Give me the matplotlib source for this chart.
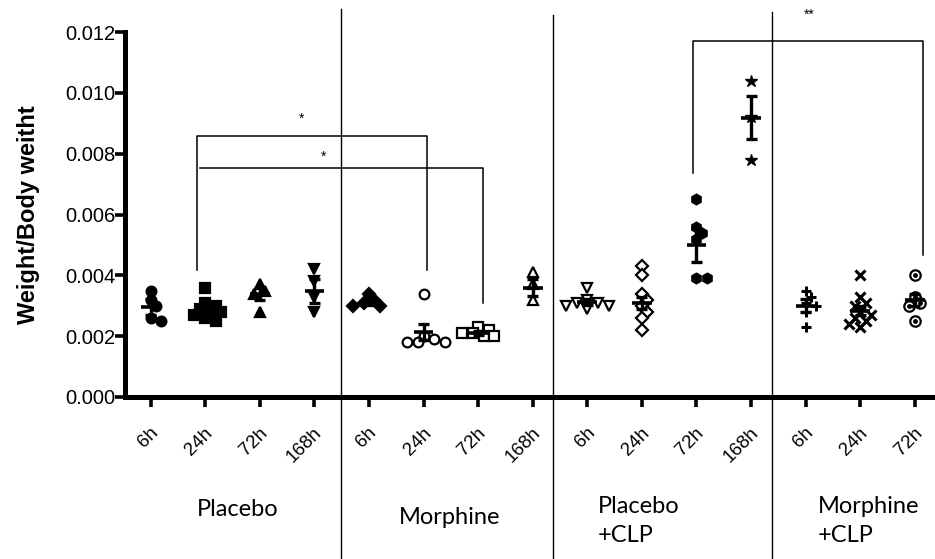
import numpy as np
import matplotlib
matplotlib.use("Agg")
import matplotlib.pyplot as plt
import matplotlib.transforms as mtrans

# ---------------- data ----------------
tick_labels = ["6h", "24h", "72h", "168h", "6h", "24h", "72h", "168h",
               "6h", "24h", "72h", "168h", "6h", "24h", "72h"]
group_names = ["Placebo", "Morphine", "Placebo\n+CLP", "Morphine\n+CLP"]

pla_6h = [0.0035, 0.0032, 0.0030, 0.0026, 0.0025]
pla_24h = [0.0036, 0.0031, 0.0030, 0.0029, 0.0028, 0.0028, 0.0027, 0.0026, 0.0025]
pla_72h = [0.0037, 0.0035, 0.0034, 0.0028]
pla_168h = [0.0042, 0.0038, 0.0033, 0.0028]
mor_6h = [0.0034, 0.0032, 0.0031, 0.0030, 0.0030]
mor_24h = [0.0034, 0.0020, 0.0019, 0.0018, 0.0018, 0.0018]
mor_72h = [0.0023, 0.0022, 0.0021, 0.0021, 0.0020, 0.0020]
mor_168h = [0.0041, 0.0037, 0.0032]
pclp_6h = [0.0036, 0.0032, 0.0031, 0.0030, 0.0030, 0.0029, 0.0031]
pclp_24h = [0.0043, 0.0040, 0.0034, 0.0032, 0.0030, 0.0028, 0.0026, 0.0022]
pclp_72h = [0.0065, 0.0056, 0.0054, 0.0052, 0.0039, 0.0039]
pclp_168h = [0.0104, 0.0092, 0.0078]
mclp_6h = [0.0035, 0.0033, 0.0031, 0.0030, 0.0028, 0.0023]
mclp_24h = [0.0040, 0.0033, 0.0031, 0.0030, 0.0028, 0.0027, 0.0026, 0.0025, 0.0024, 0.0023]
mclp_72h = [0.0040, 0.0033, 0.0031, 0.0030, 0.0025]

series = [pla_6h, pla_24h, pla_72h, pla_168h, mor_6h, mor_24h, mor_72h, mor_168h,
          pclp_6h, pclp_24h, pclp_72h, pclp_168h, mclp_6h, mclp_24h, mclp_72h]

means = [0.00296, 0.00290, 0.00339, 0.00349, 0.00310, 0.00214, 0.00210, 0.00360,
         0.00312, 0.00310, 0.00500, 0.00918, 0.00300, 0.00283, 0.00320]
sems = [0.00026, 0.00010, 0.00020, 0.00040, 0.00008, 0.00027, 0.00006, 0.00027,
        0.00010, 0.00020, 0.00055, 0.00070, 0.00022, 0.00015, 0.00020]

# marker styles: (marker, filled)
styles = [("o", True), ("s", True), ("^", True), ("v", True),
          ("D", True), ("o", False), ("s", False), ("^", False),
          ("v", False), ("D", False), ("h", True), ("*", True),
          ("+", True), ("x", True), ("odot", False)]

separators = [3.49, 7.37, 11.38]
separator_tops = [0.01276, 0.01256, 0.01266]

# ---------------- figure ----------------
fig = plt.figure(figsize=(9.35, 5.59), dpi=100)
ax = fig.add_axes([125 / 935, (559 - 397) / 559, 810 / 935, (397 - 32) / 559])
ax.set_xlim(-0.47, 14.37)
ax.set_ylim(0, 0.012)

X_PX = 54.6           # pixels per x unit
Y_PX = 30.42 / 0.001  # pixels per y unit
MSIZE_PX = 9.0


def swarm(values):
    order = np.argsort(values)[::-1]
    placed = []
    offs = np.zeros(len(values))
    step = MSIZE_PX * 0.6 / X_PX
    cands = [0]
    for k in range(1, 10):
        cands += [k * step, -k * step]
    for i in order:
        v = values[i]
        for c in cands:
            ok = True
            for (po, pv) in placed:
                dx = (c - po) * X_PX
                dy = (v - pv) * Y_PX
                if dx * dx + dy * dy < (MSIZE_PX * 0.72) ** 2:
                    ok = False
                    break
            if ok:
                offs[i] = c
                placed.append((c, v))
                break
    return offs


for i, vals in enumerate(series):
    vals = np.array(vals)
    xs = i + swarm(vals)
    mk, filled = styles[i]
    if mk == "odot":
        ax.plot(xs, vals, ls="none", marker="o", ms=7.5, mfc="white", mec="black",
                mew=1.6, zorder=3, clip_on=False)
        ax.plot(xs, vals, ls="none", marker="o", ms=2.5, mfc="black", mec="black",
                zorder=4, clip_on=False)
    elif mk in ("+", "x"):
        ax.plot(xs, vals, ls="none", marker=mk, ms=7, mec="black", mew=2.2,
                zorder=3, clip_on=False)
    elif mk == "*":
        ax.plot(xs, vals, ls="none", marker=mk, ms=9, mfc="black", mec="black",
                zorder=3, clip_on=False)
    else:
        ax.plot(xs, vals, ls="none", marker=mk, ms=7 if mk != "D" else 6,
                mfc="black" if filled else "white", mec="black",
                mew=1.6, zorder=3, clip_on=False)
    m, s = means[i], sems[i]
    ax.hlines(m, i - 0.18, i + 0.18, color="black", lw=2.6, zorder=5)
    ax.vlines(i, m - s, m + s, color="black", lw=2.4, zorder=5)
    ax.hlines([m - s, m + s], i - 0.1, i + 0.1, color="black", lw=2.4, zorder=5)

# separators
for sx, top in zip(separators, separator_tops):
    ax.plot([sx, sx], [top, -0.00535], color="black", lw=1.0, clip_on=False, zorder=1)

# significance brackets
bl = dict(color="black", lw=1.1, clip_on=False, zorder=2)
ax.plot([0.85, 0.85, 5.06, 5.06], [0.00417, 0.00858, 0.00858, 0.00417], **bl)
ax.plot([0.91, 6.09, 6.09], [0.00753, 0.00753, 0.00309], **bl)
ax.plot([9.93, 9.93, 14.15, 14.15], [0.00736, 0.0117, 0.0117, 0.00467], **bl)
star_kw = dict(ha="center", va="center", fontsize=10, family="Liberation Sans",
               clip_on=False)
ax.text(2.77, 0.00914, "*", **star_kw)
ax.text(3.16, 0.00789, "*", **star_kw)
ax.text(12.06, 0.01258, "**", **star_kw)

# axes styling
for sp in ["top", "right"]:
    ax.spines[sp].set_visible(False)
ax.spines["left"].set_linewidth(3.6)
ax.spines["bottom"].set_linewidth(3.6)
ax.spines["left"].set_capstyle("projecting")
yt = np.arange(0, 0.0121, 0.002)
ax.set_yticks(yt)
ax.set_yticklabels([f"{v:.3f}" for v in yt],
                   family="Liberation Sans", fontsize=14.5, color="black")
ax.tick_params(axis="y", direction="out", length=7, width=2.6, pad=0)
ax.set_xticks(range(len(tick_labels)))
ax.set_xticklabels(tick_labels, rotation=45, ha="right", va="center",
                   rotation_mode="anchor", family="Liberation Sans", fontsize=13.5,
                   color="black")
ax.tick_params(axis="x", direction="out", length=7, width=2.6, pad=14)
for lab in ax.get_xticklabels():
    lab.set_transform(lab.get_transform() + mtrans.ScaledTranslation(0.05, -0.04, fig.dpi_scale_trans))

ax.set_ylabel("Weight/Body weitht", family="Liberation Sans", fontweight="bold",
              fontsize=17, labelpad=18)

# group labels
gl_kw = dict(family="Lato", fontsize=17, va="center", ha="left", linespacing=1.5,
             transform=fig.transFigure)
fig.text(197 / 935, 1 - 509 / 559, group_names[0], **gl_kw)
fig.text(399 / 935, 1 - 518 / 559, group_names[1], **gl_kw)
fig.text(598 / 935, 1 - 521 / 559, group_names[2], **gl_kw)
fig.text(818 / 935, 1 - 521 / 559, group_names[3], **gl_kw)

fig.savefig("out.png", dpi=100)
